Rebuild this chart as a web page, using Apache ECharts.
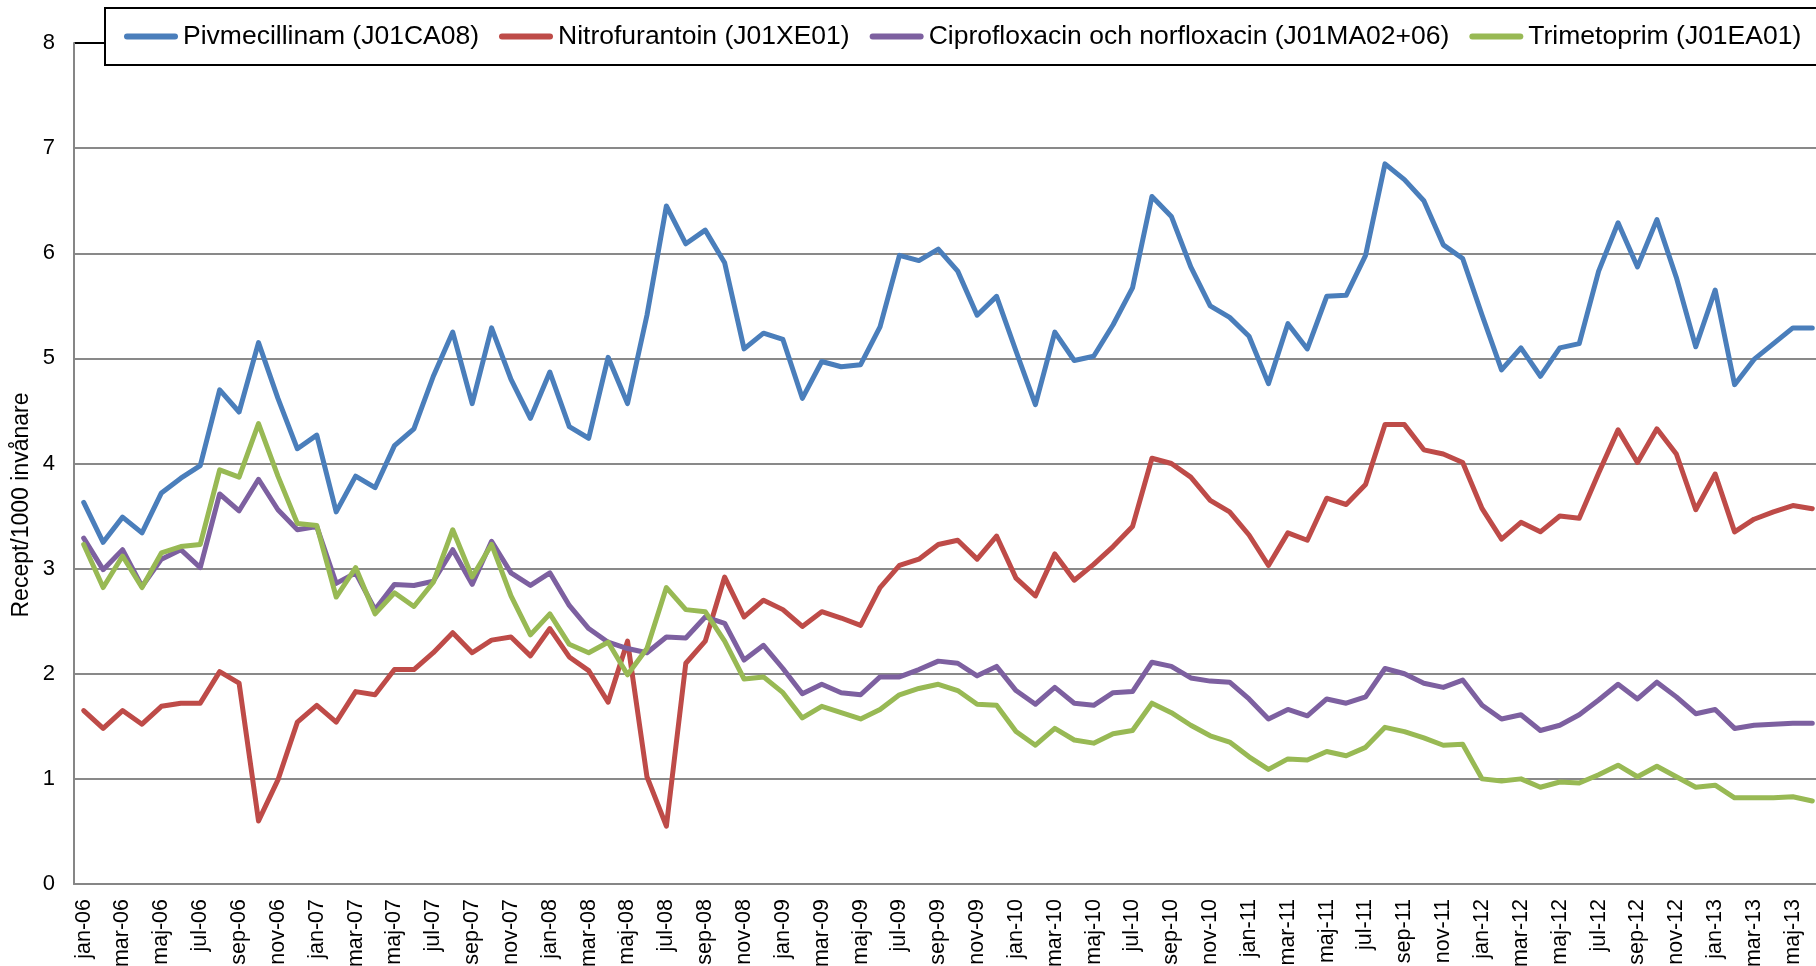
<!DOCTYPE html>
<html>
<head>
<meta charset="utf-8">
<script src="https://cdn.jsdelivr.net/npm/echarts@6/dist/echarts.min.js"></script>
<style>
  html, body { margin: 0; padding: 0; background: #fff; }
  #chart { width: 1816px; height: 966px; }
</style>
</head>
<body>
<div id="chart"></div>
<script>
// Swedish month abbreviations and years for the category axis (jan-06 .. jun-13)
const monthNames = ['jan','feb','mar','apr','maj','jun','jul','aug','sep','okt','nov','dec'];
const years = ['06','07','08','09','10','11','12','13'];
const lastYearMonths = 6;

const categories = [];
years.forEach(function (y, yi) {
  const n = (yi === years.length - 1) ? lastYearMonths : 12;
  for (let m = 0; m < n; m++) categories.push(monthNames[m] + '-' + y);
});

const yTicks = [0, 1, 2, 3, 4, 5, 6, 7, 8];
const yAxisTitle = 'Recept/1000 invånare';

const pivmecillinam = [
  3.63, 3.25, 3.49, 3.34, 3.72, 3.86, 3.98, 4.70, 4.49, 5.15, 4.62, 4.14,
  4.27, 3.54, 3.88, 3.77, 4.17, 4.33, 4.83, 5.25, 4.57, 5.29, 4.80, 4.43,
  4.87, 4.35, 4.24, 5.01, 4.57, 5.41, 6.45, 6.09, 6.22, 5.91, 5.09, 5.24,
  5.18, 4.62, 4.97, 4.92, 4.94, 5.30, 5.98, 5.93, 6.04, 5.83, 5.41, 5.59,
  5.07, 4.56, 5.25, 4.98, 5.02, 5.32, 5.67, 6.54, 6.35, 5.87, 5.50, 5.39,
  5.21, 4.76, 5.33, 5.09, 5.59, 5.60, 5.98, 6.85, 6.70, 6.50, 6.08, 5.95,
  5.41, 4.89, 5.10, 4.83, 5.10, 5.14, 5.83, 6.29, 5.87, 6.32, 5.77, 5.11,
  5.65, 4.75, 4.99, 5.14, 5.29, 5.29
];

const nitrofurantoin = [
  1.65, 1.48, 1.65, 1.52, 1.69, 1.72, 1.72, 2.02, 1.91, 0.60, 0.99, 1.54,
  1.70, 1.54, 1.83, 1.80, 2.04, 2.04, 2.20, 2.39, 2.20, 2.32, 2.35, 2.17,
  2.43, 2.16, 2.03, 1.73, 2.31, 1.02, 0.55, 2.10, 2.31, 2.92, 2.54, 2.70,
  2.61, 2.45, 2.59, 2.53, 2.46, 2.82, 3.03, 3.09, 3.23, 3.27, 3.09, 3.31,
  2.91, 2.74, 3.14, 2.89, 3.04, 3.21, 3.40, 4.05, 4.00, 3.87, 3.65, 3.54,
  3.32, 3.03, 3.34, 3.27, 3.67, 3.61, 3.80, 4.37, 4.37, 4.13, 4.09, 4.01,
  3.57, 3.28, 3.44, 3.35, 3.50, 3.48, 3.91, 4.32, 4.01, 4.33, 4.09, 3.56,
  3.90, 3.35, 3.47, 3.54, 3.60, 3.57
];

const ciprofloxacin = [
  3.29, 2.99, 3.18, 2.83, 3.09, 3.18, 3.01, 3.71, 3.55, 3.85, 3.56, 3.37,
  3.40, 2.86, 2.96, 2.61, 2.85, 2.84, 2.88, 3.18, 2.85, 3.26, 2.96, 2.84,
  2.96, 2.65, 2.43, 2.30, 2.24, 2.20, 2.35, 2.34, 2.54, 2.48, 2.13, 2.27,
  2.05, 1.81, 1.90, 1.82, 1.80, 1.97, 1.97, 2.04, 2.12, 2.10, 1.98, 2.07,
  1.84, 1.71, 1.87, 1.72, 1.70, 1.82, 1.83, 2.11, 2.07, 1.96, 1.93, 1.92,
  1.76, 1.57, 1.66, 1.60, 1.76, 1.72, 1.78, 2.05, 2.00, 1.91, 1.87, 1.94,
  1.70, 1.57, 1.61, 1.46, 1.51, 1.61, 1.75, 1.90, 1.76, 1.92, 1.78, 1.62,
  1.66, 1.48, 1.51, 1.52, 1.53, 1.53
];

const trimetoprim = [
  3.23, 2.82, 3.12, 2.82, 3.15, 3.21, 3.23, 3.94, 3.87, 4.38, 3.88, 3.43,
  3.41, 2.73, 3.01, 2.57, 2.77, 2.64, 2.87, 3.37, 2.92, 3.23, 2.74, 2.37,
  2.57, 2.28, 2.20, 2.30, 1.99, 2.24, 2.82, 2.61, 2.59, 2.31, 1.95, 1.97,
  1.82, 1.58, 1.69, 1.63, 1.57, 1.66, 1.80, 1.86, 1.90, 1.84, 1.71, 1.70,
  1.45, 1.32, 1.48, 1.37, 1.34, 1.43, 1.46, 1.72, 1.63, 1.51, 1.41, 1.35,
  1.21, 1.09, 1.19, 1.18, 1.26, 1.22, 1.30, 1.49, 1.45, 1.39, 1.32, 1.33,
  1.00, 0.98, 1.00, 0.92, 0.97, 0.96, 1.04, 1.13, 1.02, 1.12, 1.02, 0.92,
  0.94, 0.82, 0.82, 0.82, 0.83, 0.79
];

const seriesNames = [
  'Pivmecillinam (J01CA08)',
  'Nitrofurantoin (J01XE01)',
  'Ciprofloxacin och norfloxacin (J01MA02+06)',
  'Trimetoprim (J01EA01)'
];
const seriesColors = ['#4A7EBB', '#BE4B48', '#7D60A0', '#98B954'];
const seriesData = [pivmecillinam, nitrofurantoin, ciprofloxacin, trimetoprim];

const FONT = "'Liberation Sans', Arial, sans-serif";
const PILL = 'path://M3,0 L51,0 A3,3 0 0 1 51,6 L3,6 A3,3 0 0 1 3,0 Z';

const chart = echarts.init(document.getElementById('chart'), null, { renderer: 'canvas' });

const gridColors = [];
for (let i = 0; i < yTicks.length - 1; i++) gridColors.push('#898989');
gridColors.push('#000000');

chart.setOption({
  animation: false,
  backgroundColor: '#ffffff',
  textStyle: { fontFamily: FONT },
  grid: {
    left: 74, top: 43, width: 1748, height: 841,
    containLabel: false,
    outerBoundsMode: 'none'
  },
  legend: {
    data: seriesNames.map(function (n) { return { name: n, icon: PILL }; }),
    left: 105,
    top: 8,
    width: 2400,
    orient: 'horizontal',
    padding: [14, 45, 14, 19],
    backgroundColor: 'transparent',
    borderWidth: 0,
    itemWidth: 54,
    itemHeight: 6,
    itemGap: 20,
    z: 10,
    textStyle: { fontFamily: FONT, fontSize: 26.5, color: '#000000', lineHeight: 29 }
  },
  graphic: [{
    type: 'rect',
    z: 8,
    shape: { x: 105, y: 8, width: 1780, height: 57 },
    style: { fill: '#ffffff', stroke: '#000000', lineWidth: 2 }
  }, {
    type: 'text',
    x: 22,
    y: 505,
    rotation: Math.PI / 2,
    style: {
      text: yAxisTitle,
      font: "23px 'Liberation Sans', Arial, sans-serif",
      fill: '#000000',
      align: 'center',
      verticalAlign: 'middle'
    }
  }],
  xAxis: {
    type: 'category',
    data: categories,
    boundaryGap: true,
    axisLine: { show: true, lineStyle: { color: '#868686', width: 2 } },
    axisTick: { show: false },
    splitLine: { show: false },
    axisLabel: {
      interval: 1,
      rotate: 90,
      margin: 15,
      fontSize: 21.5,
      color: '#000000',
      fontFamily: FONT
    }
  },
  yAxis: {
    type: 'value',
    min: yTicks[0],
    max: yTicks[yTicks.length - 1],
    interval: 1,
    axisLine: { show: true, lineStyle: { color: '#868686', width: 2 } },
    axisTick: { show: false },
    splitLine: { show: true, lineStyle: { color: gridColors, width: 2 } },
    axisLabel: { margin: 19, fontSize: 22, color: '#000000', fontFamily: FONT }
  },
  series: seriesNames.map(function (name, i) {
    return {
      name: name,
      type: 'line',
      data: seriesData[i],
      symbol: 'none',
      showSymbol: false,
      smooth: false,
      color: seriesColors[i],
      itemStyle: { color: seriesColors[i] },
      lineStyle: { color: seriesColors[i], width: 5, cap: 'round', join: 'round' },
      emphasis: { disabled: true }
    };
  })
});
</script>
</body>
</html>
